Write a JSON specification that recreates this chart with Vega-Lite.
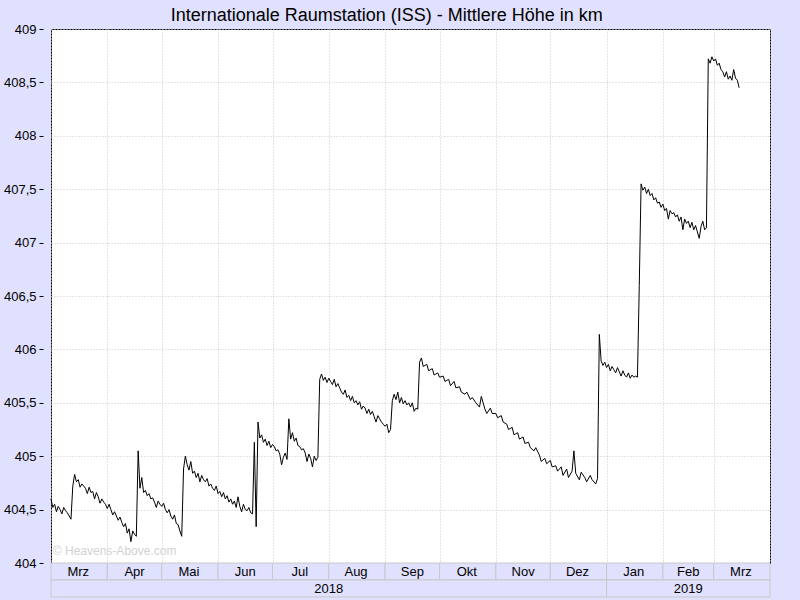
{
"$schema": "https://vega.github.io/schema/vega-lite/v6.json",
"background": "#E0E0FF",
"padding": {"left": 2, "top": 6, "right": 31, "bottom": 2},
"title": {"text": "Internationale Raumstation (ISS) - Mittlere Höhe in km", "fontSize": 18, "font": "Liberation Sans", "fontWeight": "normal", "color": "black", "anchor": "middle", "offset": -2},
"bounds": "flush",
"spacing": 0,
"config": {"font": "Liberation Sans", "view": {"stroke": null}},
"vconcat": [
{
"width": 719, "height": 534,
"view": {"fill": "white", "stroke": "black", "strokeWidth": 1},
"layer": [
{
"data": {"values": [
{"d":"2018-03-01","h":404.60},{"d":"2018-03-02","h":404.52},{"d":"2018-03-03","h":404.55},{"d":"2018-03-04","h":404.48},{"d":"2018-03-05","h":404.53},{"d":"2018-03-06","h":404.50},{"d":"2018-03-07","h":404.46},{"d":"2018-03-08","h":404.52},{"d":"2018-03-09","h":404.49},{"d":"2018-03-10","h":404.47},{"d":"2018-03-11","h":404.44},{"d":"2018-03-12","h":404.41},
{"d":"2018-03-13","h":404.72},{"d":"2018-03-14","h":404.83},{"d":"2018-03-15","h":404.76},{"d":"2018-03-16","h":404.78},{"d":"2018-03-17","h":404.71},{"d":"2018-03-18","h":404.74},{"d":"2018-03-19","h":404.72},{"d":"2018-03-20","h":404.70},{"d":"2018-03-21","h":404.65},{"d":"2018-03-22","h":404.71},{"d":"2018-03-23","h":404.66},{"d":"2018-03-24","h":404.67},{"d":"2018-03-25","h":404.60},{"d":"2018-03-26","h":404.66},{"d":"2018-03-27","h":404.62},{"d":"2018-03-28","h":404.56},{"d":"2018-03-29","h":404.60},{"d":"2018-03-30","h":404.57},{"d":"2018-03-31","h":404.55},
{"d":"2018-04-01","h":404.51},{"d":"2018-04-02","h":404.55},{"d":"2018-04-03","h":404.50},{"d":"2018-04-04","h":404.45},{"d":"2018-04-05","h":404.48},{"d":"2018-04-06","h":404.44},{"d":"2018-04-07","h":404.40},{"d":"2018-04-08","h":404.43},{"d":"2018-04-09","h":404.38},{"d":"2018-04-10","h":404.34},{"d":"2018-04-11","h":404.37},{"d":"2018-04-12","h":404.28},{"d":"2018-04-13","h":404.32},{"d":"2018-04-14","h":404.20},{"d":"2018-04-15","h":404.30},{"d":"2018-04-16","h":404.27},{"d":"2018-04-17","h":404.25},
{"d":"2018-04-18","h":405.05},{"d":"2018-04-19","h":404.70},{"d":"2018-04-20","h":404.80},{"d":"2018-04-21","h":404.66},{"d":"2018-04-22","h":404.68},{"d":"2018-04-23","h":404.63},{"d":"2018-04-24","h":404.65},{"d":"2018-04-25","h":404.60},{"d":"2018-04-26","h":404.61},{"d":"2018-04-27","h":404.57},{"d":"2018-04-28","h":404.52},{"d":"2018-04-29","h":404.58},{"d":"2018-04-30","h":404.55},
{"d":"2018-05-01","h":404.53},{"d":"2018-05-02","h":404.56},{"d":"2018-05-03","h":404.50},{"d":"2018-05-04","h":404.47},{"d":"2018-05-05","h":404.50},{"d":"2018-05-06","h":404.44},{"d":"2018-05-07","h":404.41},{"d":"2018-05-08","h":404.45},{"d":"2018-05-09","h":404.37},{"d":"2018-05-10","h":404.36},{"d":"2018-05-11","h":404.30},{"d":"2018-05-12","h":404.25},
{"d":"2018-05-13","h":404.88},{"d":"2018-05-14","h":405.00},{"d":"2018-05-15","h":404.92},{"d":"2018-05-16","h":404.87},{"d":"2018-05-17","h":404.95},{"d":"2018-05-18","h":404.84},{"d":"2018-05-19","h":404.86},{"d":"2018-05-20","h":404.80},{"d":"2018-05-21","h":404.84},{"d":"2018-05-22","h":404.76},{"d":"2018-05-23","h":404.82},{"d":"2018-05-24","h":404.78},{"d":"2018-05-25","h":404.76},{"d":"2018-05-26","h":404.79},{"d":"2018-05-27","h":404.72},{"d":"2018-05-28","h":404.74},{"d":"2018-05-29","h":404.70},{"d":"2018-05-30","h":404.68},{"d":"2018-05-31","h":404.72},
{"d":"2018-06-01","h":404.65},{"d":"2018-06-02","h":404.67},{"d":"2018-06-03","h":404.62},{"d":"2018-06-04","h":404.66},{"d":"2018-06-05","h":404.60},{"d":"2018-06-06","h":404.63},{"d":"2018-06-07","h":404.57},{"d":"2018-06-08","h":404.60},{"d":"2018-06-09","h":404.55},{"d":"2018-06-10","h":404.58},{"d":"2018-06-11","h":404.52},{"d":"2018-06-12","h":404.62},{"d":"2018-06-13","h":404.53},{"d":"2018-06-14","h":404.48},{"d":"2018-06-15","h":404.55},{"d":"2018-06-16","h":404.50},{"d":"2018-06-17","h":404.49},{"d":"2018-06-18","h":404.52},{"d":"2018-06-19","h":404.47},{"d":"2018-06-20","h":404.46},
{"d":"2018-06-21","h":405.13},{"d":"2018-06-22","h":404.34},{"d":"2018-06-23","h":405.32},{"d":"2018-06-24","h":405.17},{"d":"2018-06-25","h":405.20},{"d":"2018-06-26","h":405.13},{"d":"2018-06-27","h":405.16},{"d":"2018-06-28","h":405.10},{"d":"2018-06-29","h":405.14},{"d":"2018-06-30","h":405.08},
{"d":"2018-07-01","h":405.11},{"d":"2018-07-02","h":405.09},{"d":"2018-07-03","h":405.05},{"d":"2018-07-04","h":405.06},{"d":"2018-07-05","h":405.02},{"d":"2018-07-06","h":404.92},{"d":"2018-07-07","h":404.99},{"d":"2018-07-08","h":405.03},{"d":"2018-07-09","h":404.97},
{"d":"2018-07-10","h":405.35},{"d":"2018-07-11","h":405.16},{"d":"2018-07-12","h":405.22},{"d":"2018-07-13","h":405.14},{"d":"2018-07-14","h":405.17},{"d":"2018-07-15","h":405.10},{"d":"2018-07-16","h":405.09},{"d":"2018-07-17","h":405.06},{"d":"2018-07-18","h":405.07},{"d":"2018-07-19","h":405.03},{"d":"2018-07-20","h":404.95},{"d":"2018-07-21","h":405.02},{"d":"2018-07-22","h":404.98},{"d":"2018-07-23","h":404.90},{"d":"2018-07-24","h":405.00},{"d":"2018-07-25","h":404.96},{"d":"2018-07-26","h":404.99},
{"d":"2018-07-27","h":405.72},{"d":"2018-07-28","h":405.77},{"d":"2018-07-29","h":405.71},{"d":"2018-07-30","h":405.74},{"d":"2018-07-31","h":405.69},
{"d":"2018-08-01","h":405.73},{"d":"2018-08-02","h":405.70},{"d":"2018-08-03","h":405.67},{"d":"2018-08-04","h":405.72},{"d":"2018-08-05","h":405.65},{"d":"2018-08-06","h":405.68},{"d":"2018-08-07","h":405.64},{"d":"2018-08-08","h":405.60},{"d":"2018-08-09","h":405.58},{"d":"2018-08-10","h":405.62},{"d":"2018-08-11","h":405.55},{"d":"2018-08-12","h":405.57},{"d":"2018-08-13","h":405.52},{"d":"2018-08-14","h":405.56},{"d":"2018-08-15","h":405.50},{"d":"2018-08-16","h":405.52},{"d":"2018-08-17","h":405.48},{"d":"2018-08-18","h":405.51},{"d":"2018-08-19","h":405.44},{"d":"2018-08-20","h":405.47},{"d":"2018-08-21","h":405.45},{"d":"2018-08-22","h":405.40},{"d":"2018-08-23","h":405.44},{"d":"2018-08-24","h":405.39},{"d":"2018-08-25","h":405.42},{"d":"2018-08-26","h":405.37},{"d":"2018-08-27","h":405.32},{"d":"2018-08-28","h":405.38},{"d":"2018-08-29","h":405.35},{"d":"2018-08-30","h":405.32},{"d":"2018-08-31","h":405.30},
{"d":"2018-09-01","h":405.28},{"d":"2018-09-02","h":405.30},{"d":"2018-09-03","h":405.22},{"d":"2018-09-04","h":405.25},{"d":"2018-09-05","h":405.52},{"d":"2018-09-06","h":405.58},{"d":"2018-09-07","h":405.53},{"d":"2018-09-08","h":405.60},{"d":"2018-09-09","h":405.50},{"d":"2018-09-10","h":405.55},{"d":"2018-09-11","h":405.49},{"d":"2018-09-12","h":405.52},{"d":"2018-09-13","h":405.48},{"d":"2018-09-14","h":405.50},{"d":"2018-09-15","h":405.46},{"d":"2018-09-16","h":405.50},{"d":"2018-09-17","h":405.42},{"d":"2018-09-18","h":405.45},{"d":"2018-09-19","h":405.44},
{"d":"2018-09-20","h":405.88},{"d":"2018-09-21","h":405.92},{"d":"2018-09-22","h":405.84},{"d":"2018-09-24","h":405.86},{"d":"2018-09-25","h":405.80},{"d":"2018-09-27","h":405.82},{"d":"2018-09-28","h":405.76},{"d":"2018-09-30","h":405.78},
{"d":"2018-10-01","h":405.74},{"d":"2018-10-03","h":405.75},{"d":"2018-10-04","h":405.70},{"d":"2018-10-06","h":405.72},{"d":"2018-10-07","h":405.66},{"d":"2018-10-09","h":405.70},{"d":"2018-10-10","h":405.64},{"d":"2018-10-12","h":405.65},{"d":"2018-10-13","h":405.60},{"d":"2018-10-15","h":405.58},{"d":"2018-10-16","h":405.60},{"d":"2018-10-18","h":405.53},{"d":"2018-10-19","h":405.55},{"d":"2018-10-21","h":405.50},{"d":"2018-10-23","h":405.46},{"d":"2018-10-24","h":405.56},{"d":"2018-10-26","h":405.44},{"d":"2018-10-27","h":405.40},{"d":"2018-10-29","h":405.45},{"d":"2018-10-30","h":405.40},
{"d":"2018-11-01","h":405.40},{"d":"2018-11-02","h":405.36},{"d":"2018-11-04","h":405.38},{"d":"2018-11-05","h":405.32},{"d":"2018-11-07","h":405.30},{"d":"2018-11-08","h":405.25},{"d":"2018-11-10","h":405.27},{"d":"2018-11-11","h":405.20},{"d":"2018-11-13","h":405.22},{"d":"2018-11-14","h":405.16},{"d":"2018-11-16","h":405.18},{"d":"2018-11-17","h":405.12},{"d":"2018-11-19","h":405.13},{"d":"2018-11-20","h":405.08},{"d":"2018-11-22","h":405.05},{"d":"2018-11-23","h":405.08},{"d":"2018-11-25","h":405.01},{"d":"2018-11-26","h":404.95},{"d":"2018-11-28","h":404.98},{"d":"2018-11-29","h":404.93},
{"d":"2018-12-01","h":404.96},{"d":"2018-12-02","h":404.90},{"d":"2018-12-04","h":404.91},{"d":"2018-12-05","h":404.86},{"d":"2018-12-07","h":404.90},{"d":"2018-12-08","h":404.82},{"d":"2018-12-10","h":404.88},{"d":"2018-12-11","h":404.80},{"d":"2018-12-13","h":404.86},{"d":"2018-12-14","h":405.05},{"d":"2018-12-15","h":404.84},{"d":"2018-12-17","h":404.78},{"d":"2018-12-18","h":404.85},{"d":"2018-12-20","h":404.80},{"d":"2018-12-21","h":404.76},{"d":"2018-12-23","h":404.82},{"d":"2018-12-24","h":404.78},{"d":"2018-12-26","h":404.74},{"d":"2018-12-27","h":404.79},
{"d":"2018-12-28","h":406.14},{"d":"2018-12-29","h":405.89},{"d":"2018-12-30","h":405.85},{"d":"2018-12-31","h":405.88},
{"d":"2019-01-01","h":405.83},{"d":"2019-01-02","h":405.86},{"d":"2019-01-03","h":405.80},{"d":"2019-01-04","h":405.84},{"d":"2019-01-05","h":405.81},{"d":"2019-01-06","h":405.78},{"d":"2019-01-07","h":405.83},{"d":"2019-01-08","h":405.79},{"d":"2019-01-09","h":405.75},{"d":"2019-01-10","h":405.80},{"d":"2019-01-11","h":405.76},{"d":"2019-01-12","h":405.74},{"d":"2019-01-13","h":405.78},{"d":"2019-01-14","h":405.73},{"d":"2019-01-15","h":405.76},{"d":"2019-01-16","h":405.74},{"d":"2019-01-17","h":405.75},{"d":"2019-01-18","h":405.74},
{"d":"2019-01-19","h":406.60},{"d":"2019-01-20","h":407.55},{"d":"2019-01-21","h":407.49},{"d":"2019-01-22","h":407.52},{"d":"2019-01-23","h":407.46},{"d":"2019-01-24","h":407.50},{"d":"2019-01-25","h":407.44},{"d":"2019-01-26","h":407.46},{"d":"2019-01-27","h":407.40},{"d":"2019-01-28","h":407.42},{"d":"2019-01-29","h":407.37},{"d":"2019-01-30","h":407.38},{"d":"2019-01-31","h":407.33},
{"d":"2019-02-01","h":407.36},{"d":"2019-02-02","h":407.30},{"d":"2019-02-03","h":407.32},{"d":"2019-02-04","h":407.22},{"d":"2019-02-05","h":407.30},{"d":"2019-02-06","h":407.27},{"d":"2019-02-07","h":407.28},{"d":"2019-02-08","h":407.24},{"d":"2019-02-09","h":407.26},{"d":"2019-02-10","h":407.20},{"d":"2019-02-11","h":407.24},{"d":"2019-02-12","h":407.12},{"d":"2019-02-13","h":407.22},{"d":"2019-02-14","h":407.18},{"d":"2019-02-15","h":407.20},{"d":"2019-02-16","h":407.14},{"d":"2019-02-17","h":407.19},{"d":"2019-02-18","h":407.12},{"d":"2019-02-19","h":407.16},{"d":"2019-02-20","h":407.10},{"d":"2019-02-21","h":407.04},{"d":"2019-02-22","h":407.15},{"d":"2019-02-23","h":407.20},{"d":"2019-02-24","h":407.12},{"d":"2019-02-25","h":407.14},
{"d":"2019-02-26","h":408.72},{"d":"2019-02-27","h":408.68},{"d":"2019-02-28","h":408.74},
{"d":"2019-03-01","h":408.70},{"d":"2019-03-02","h":408.72},{"d":"2019-03-03","h":408.66},{"d":"2019-03-04","h":408.68},{"d":"2019-03-05","h":408.62},{"d":"2019-03-06","h":408.60},{"d":"2019-03-07","h":408.55},{"d":"2019-03-08","h":408.60},{"d":"2019-03-09","h":408.53},{"d":"2019-03-10","h":408.56},{"d":"2019-03-11","h":408.52},{"d":"2019-03-12","h":408.62},{"d":"2019-03-13","h":408.54},{"d":"2019-03-14","h":408.52},{"d":"2019-03-15","h":408.45}
]},
"mark": {"type": "line", "color": "black", "strokeWidth": 1},
"encoding": {
"x": {"field": "d", "type": "temporal", "scale": {"domain": ["2018-03-01", "2019-04-01"], "nice": false},
 "axis": {"title": null, "labels": false, "ticks": false, "domain": false, "grid": true, "gridColor": "#C8C8C8", "gridDash": [1, 2], "tickCount": {"interval": "month", "step": 1}}},
"y": {"field": "h", "type": "quantitative", "scale": {"domain": [404, 409], "nice": false, "zero": false},
 "axis": {"title": null, "values": [404, 404.5, 405, 405.5, 406, 406.5, 407, 407.5, 408, 408.5, 409], "labelExpr": "replace(format(datum.value, '.1~f'), '.', ',')", "domain": false, "tickSize": 4, "tickColor": "black", "offset": 8, "labelPadding": 3, "labelFontSize": 13, "labelColor": "black", "labelFont": "Liberation Sans", "grid": true, "gridColor": "#C8C8C8", "gridDash": [1, 2]}}
}
},
{
"data": {"values": [{"d": "2018-03-02", "h": 404.11, "t": "© Heavens-Above.com"}]},
"mark": {"type": "text", "align": "left", "baseline": "middle", "color": "#D2D2D2", "fontSize": 12, "font": "Liberation Sans"},
"encoding": {"x": {"field": "d", "type": "temporal"}, "y": {"field": "h", "type": "quantitative"}, "text": {"field": "t"}}
}
]
},
{
"width": 719, "height": 34,
"view": {"stroke": null},
"data": {"values": [
{"r":"m","s":"2018-03-01","e":"2018-04-01","c":"2018-03-16","l":"Mrz"},
{"r":"m","s":"2018-04-01","e":"2018-05-01","c":"2018-04-16","l":"Apr"},
{"r":"m","s":"2018-05-01","e":"2018-06-01","c":"2018-05-16","l":"Mai"},
{"r":"m","s":"2018-06-01","e":"2018-07-01","c":"2018-06-16","l":"Jun"},
{"r":"m","s":"2018-07-01","e":"2018-08-01","c":"2018-07-16","l":"Jul"},
{"r":"m","s":"2018-08-01","e":"2018-09-01","c":"2018-08-16","l":"Aug"},
{"r":"m","s":"2018-09-01","e":"2018-10-01","c":"2018-09-16","l":"Sep"},
{"r":"m","s":"2018-10-01","e":"2018-11-01","c":"2018-10-16","l":"Okt"},
{"r":"m","s":"2018-11-01","e":"2018-12-01","c":"2018-11-16","l":"Nov"},
{"r":"m","s":"2018-12-01","e":"2019-01-01","c":"2018-12-16","l":"Dez"},
{"r":"m","s":"2019-01-01","e":"2019-02-01","c":"2019-01-16","l":"Jan"},
{"r":"m","s":"2019-02-01","e":"2019-03-01","c":"2019-02-15","l":"Feb"},
{"r":"m","s":"2019-03-01","e":"2019-04-01","c":"2019-03-16","l":"Mrz"},
{"r":"y","s":"2018-03-01","e":"2019-01-01","c":"2018-08-01","l":"2018"},
{"r":"y","s":"2019-01-01","e":"2019-04-01","c":"2019-02-15","l":"2019"}
]},
"layer": [
{
"mark": {"type": "rect", "fill": "#E0E0FF", "stroke": "#C8C8C8", "strokeWidth": 1},
"encoding": {
"x": {"field": "s", "type": "temporal", "scale": {"domain": ["2018-03-01", "2019-04-01"], "nice": false}, "axis": null},
"x2": {"field": "e"},
"y": {"field": "r", "type": "nominal", "scale": {"domain": ["m", "y"], "paddingInner": 0, "paddingOuter": 0}, "axis": null}
}
},
{
"mark": {"type": "text", "fontSize": 13, "color": "black", "font": "Liberation Sans"},
"encoding": {
"x": {"field": "c", "type": "temporal"},
"y": {"field": "r", "type": "nominal"},
"text": {"field": "l"}
}
}
]
}
]
}
